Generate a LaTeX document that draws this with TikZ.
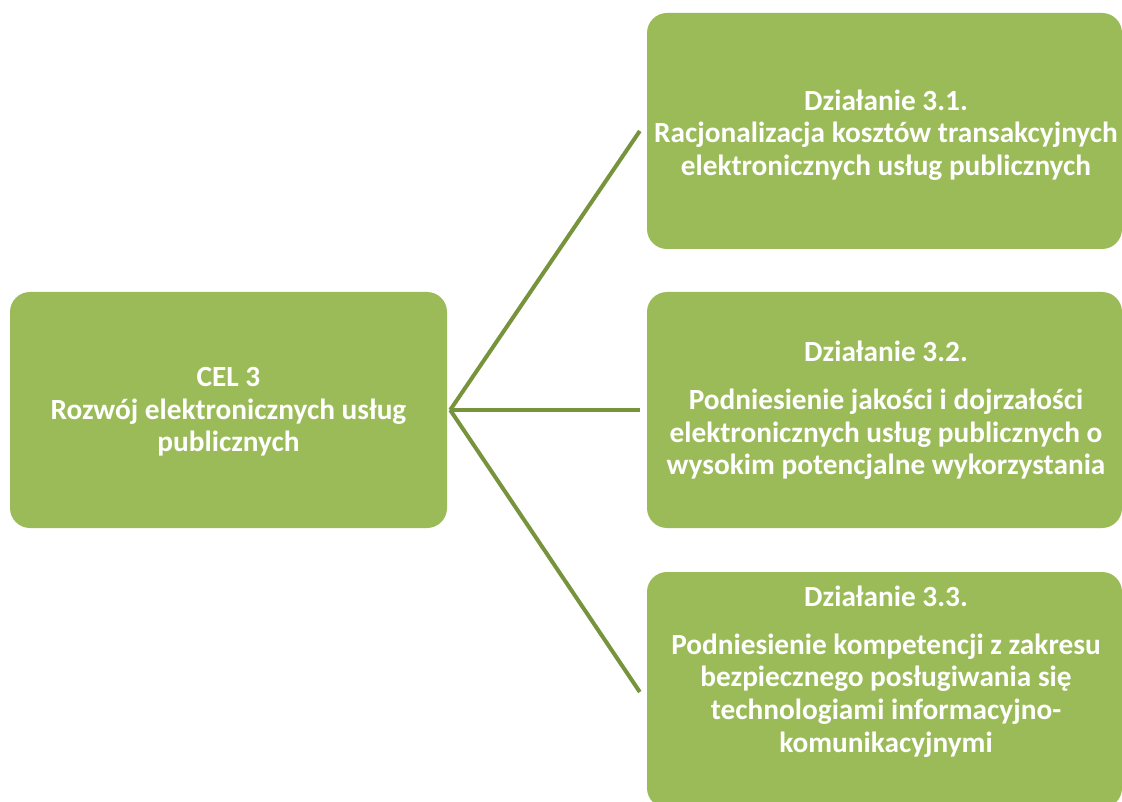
\documentclass[tikz,border=0pt]{standalone}
\usepackage{fontspec}
\setmainfont{Carlito}
\usetikzlibrary{calc}
\definecolor{boxgreen}{HTML}{9BBB59}
\definecolor{linegreen}{HTML}{77933C}
\tikzset{
  greenbox/.style={draw=none, fill=boxgreen, rounded corners=20pt, inner sep=0pt},
  boxtext/.style={text=white, align=center, font=\fontsize{29.3}{32.6}\selectfont\bfseries, inner sep=0pt},
  conn/.style={draw=linegreen, line width=4pt, line cap=butt}
}
\begin{document}
\begin{tikzpicture}[x=1pt,y=-1pt]
\useasboundingbox (0,0) rectangle (1122,802);
\clip (0,0) rectangle (1122,802);
\fill[white] (0,0) rectangle (1122,802);
% boxes
\node[greenbox, minimum width=437pt, minimum height=236pt] (cel) at (228.5,410) {};
\node[greenbox, minimum width=475pt, minimum height=236pt] (b1) at (884.5,131) {};
\node[greenbox, minimum width=475pt, minimum height=236pt] (b2) at (884.5,410) {};
\node[greenbox, minimum width=475pt, minimum height=236pt] (b3) at (884.5,690) {};
% texts
\node[boxtext] (celt) at (228.5,412) {CEL 3\\Rozwój elektronicznych usług\\publicznych};
\node[boxtext] (b1t) at (886,135) {Działanie 3.1.\\Racjonalizacja kosztów transakcyjnych\\elektronicznych usług publicznych};
\node[boxtext] (b2t) at (886,410.5) {Działanie 3.2.\\[15pt]Podniesienie jakości i dojrzałości\\elektronicznych usług publicznych o\\wysokim potencjalne wykorzystania};
\node[boxtext] (b3t) at (886,671.5) {Działanie 3.3.\\[15pt]Podniesienie kompetencji z zakresu\\bezpiecznego posługiwania się\\technologiami informacyjno-\\komunikacyjnymi};
% connectors
\coordinate (hub) at ([xshift=3pt]cel.east);
\draw[conn] (hub) -- ([xshift=-7pt]b1.west);
\draw[conn] (hub) -- ([xshift=-7pt]b2.west);
\draw[conn] (hub) -- ([xshift=-7pt,yshift=-2pt]b3.west);
\end{tikzpicture}
\end{document}
